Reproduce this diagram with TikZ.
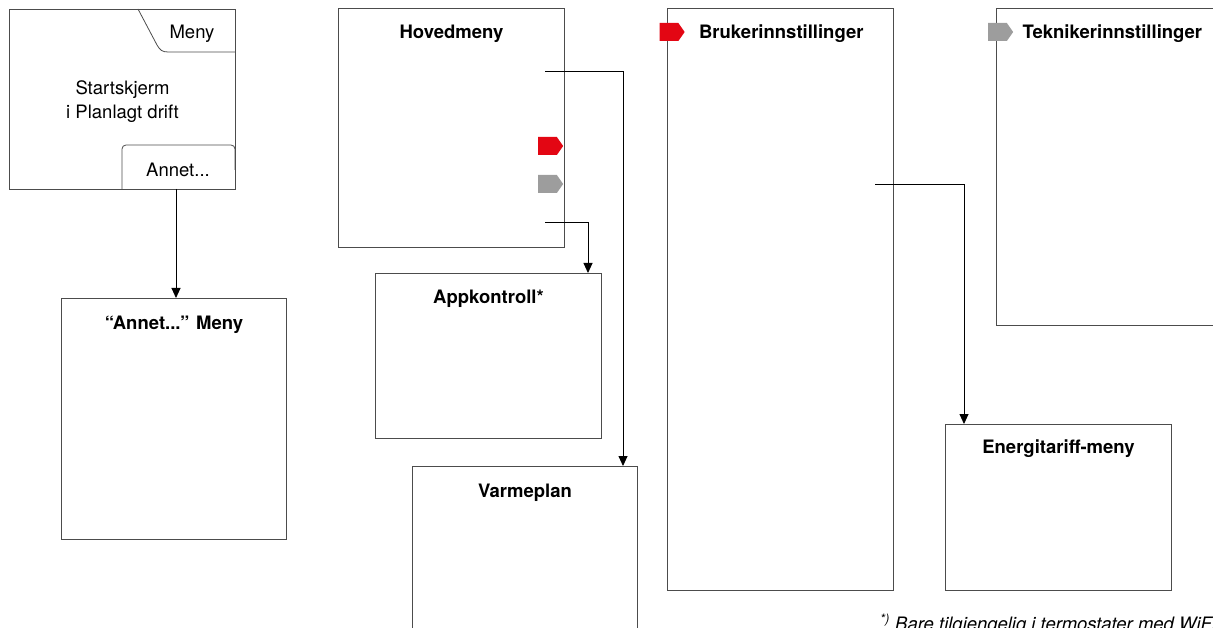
\documentclass[tikz,border=0pt]{standalone}
\usepackage{fontspec}
\setmainfont{TeX Gyre Heros}
\usetikzlibrary{positioning,arrows.meta,shapes.symbols}
\definecolor{tagred}{HTML}{E30613}
\definecolor{taggrey}{HTML}{9D9D9D}

\begin{document}
\begin{tikzpicture}[
    x=1pt, y=-1pt,
    font=\fontsize{18.5}{24}\selectfont,
    screen/.style={draw=black!70, line width=1pt, minimum width=226pt, inner sep=0, anchor=north west},
    title/.style={font=\fontsize{18.5}{24}\selectfont\bfseries, inner sep=0},
    label/.style={inner sep=0, yshift=-2pt},
    tag/.style={signal, signal to=east, signal pointer angle=110, minimum width=25pt, minimum height=18pt, inner sep=0},
    link/.style={->, >={Triangle[length=10pt,width=9pt]}, draw=black, line width=0.9pt}
    ]
        \useasboundingbox (0,0) rectangle (1213,628);

        %Nodes
        \node[screen, minimum height=180pt]
            (start)     at (9,9)        {};
        \node[label, align=center]
            (startT)    at (start.center) {Startskjerm\\i Planlagt drift};
        \node[label]
            (menyT)     at (192,32)     {Meny};
        \node[label]
            (annetT)    at (178,168)    {Annet...};
        \node[screen, minimum height=241pt, minimum width=225pt]
            (annetMeny) at (61,298)     {};
        \node[title]
            (annetMenyT) at ([yshift=-27]annetMeny.north) {``Annet...'' Meny};

        \node[screen, minimum height=239pt]
            (hoved)     at (338,8)      {};
        \node[title]
            (hovedT)    at ([yshift=-26]hoved.north) {Hovedmeny};
        \node[tag, fill=tagred]
            (hovedRed)  at (547.5,146)  {};
        \node[tag, fill=taggrey]
            (hovedGrey) at (547.5,184)  {};
        \node[screen, minimum height=165pt]
            (appk)      at (375,273)    {};
        \node[title]
            (appkT)     at ([yshift=-26]appk.north) {Appkontroll*};
        \node[screen, minimum height=185pt, minimum width=225pt]
            (varme)     at (412,466)    {};
        \node[title]
            (varmeT)    at ([yshift=-27]varme.north) {Varmeplan};

        \node[screen, minimum height=582pt]
            (bruker)    at (667,8)      {};
        \node[tag, fill=tagred]
            (brukerTag) at (669,32)     {};
        \node[title, right=14pt of brukerTag, yshift=-2pt]
            (brukerT)                   {Brukerinnstillinger};
        \node[screen, minimum height=166pt]
            (energi)    at (945,424)    {};
        \node[title]
            (energiT)   at ([yshift=-25]energi.north) {Energitariff-meny};

        \node[screen, minimum height=317pt, minimum width=240pt]
            (tekniker)  at (996,8)      {};
        \node[tag, fill=taggrey]
            (teknikerTag) at (997.5,32) {};
        \node[title, right=9pt of teknikerTag, yshift=-2pt]
            (teknikerT)                 {Teknikerinnstillinger};

        \node[anchor=base west, inner sep=0, font=\fontsize{18.5}{24}\selectfont\itshape]
            (note)      at (880,630)    {\textsuperscript{*)} Bare tilgjengelig i termostater med WiFi};

        %Tabs
        \draw[draw=black!70, line width=0.8pt]
            (138,9) -- (157,45) .. controls (160,50) and (162,52) .. (168,52) -- (235,52);
        \draw[draw=black!70, line width=0.8pt, rounded corners=4pt]
            (122,189) -- (122,145) -- (235,145) -- (235,170);

        %Lines
        \coordinate (annetOut)  at (176,189);
        \coordinate (hovedOut1) at (545,71);
        \coordinate (hovedOut2) at (545,222);
        \coordinate (brukerOut) at (875,184);
        \draw[link]
            (annetOut) -- (annetOut |- annetMeny.north);
        \draw[link]
            (hovedOut1) -| ([xshift=-15]varme.north east);
        \draw[link]
            (hovedOut2) -| ([xshift=-14]appk.north east);
        \draw[link]
            (brukerOut) -| ([xshift=19]energi.north west);
    \end{tikzpicture}
\end{document}
